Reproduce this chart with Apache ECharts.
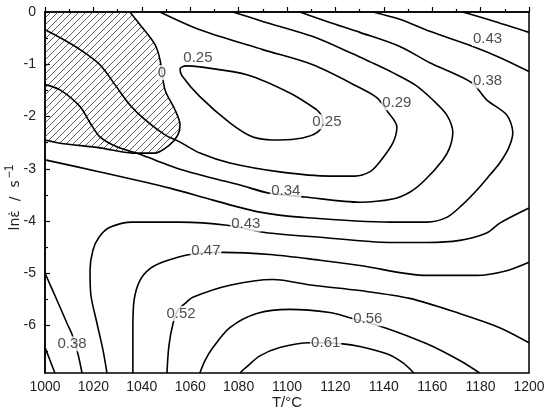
<!DOCTYPE html>
<html>
<head>
<meta charset="utf-8">
<script src="https://cdn.jsdelivr.net/npm/echarts@6.0.0/dist/echarts.min.js"></script>
<style>
  html, body { margin: 0; padding: 0; background: #fff; }
  #chart { width: 550px; height: 415px; }
</style>
</head>
<body>
<div id="chart"></div>
<script>
// contour lines, each point is [T (°C), ln strain rate]
const c000 = [[1035.1, 0], [1039.2, -0.24], [1045.4, -0.62], [1047.5, -0.91], [1049.6, -1.49], [1053.7, -1.87],
  [1055.8, -2.16], [1054.9, -2.35], [1051.6, -2.54], [1045.4, -2.70], [1036.3, -2.70], [1022.7, -2.60],
  [1006.2, -2.51], [1000, -2.45]]
const c025 = [[1112.3, -1.87], [1101.2, -1.55], [1083.4, -1.20], [1064.0, -1.05], [1058.2, -1.03], [1055.8, -1.09],
  [1056.6, -1.22], [1064.0, -1.62], [1076.4, -2.12], [1085.9, -2.39], [1097.0, -2.45], [1106.5, -2.41],
  [1112.3, -2.31], [1114.8, -2.14], [1114.4, -1.99], [1112.3, -1.87]]
const c029 = [[1047.5, 0], [1064.0, -0.34], [1090.0, -0.72], [1110.7, -1.01], [1130.1, -1.45], [1137.1, -1.64],
  [1141.6, -1.91], [1145.4, -2.20], [1143.7, -2.51], [1138.3, -2.87], [1134.2, -3.06], [1128.0, -3.14],
  [1117.7, -3.14], [1097.0, -3.06], [1076.4, -2.89], [1064.0, -2.70], [1055.8, -2.49], [1049.6, -2.35],
  [1041.3, -2.06], [1035.1, -1.78], [1028.9, -1.39], [1022.7, -1.01], [1014.5, -0.72], [1006.2, -0.49],
  [1000, -0.34]]
const c034 = [[1077.6, 0], [1090.0, -0.18], [1110.7, -0.47], [1127.2, -0.80], [1134.2, -0.95], [1143.7, -1.16],
  [1152.8, -1.39], [1160.2, -1.68], [1166.0, -1.97], [1168.5, -2.31], [1167.2, -2.60], [1164.4, -2.83],
  [1156.9, -3.22], [1150.7, -3.45], [1143.7, -3.58], [1130.1, -3.64], [1107.4, -3.54], [1092.9, -3.47],
  [1080.5, -3.31], [1069.4, -3.18], [1055.8, -3.01], [1045.4, -2.83], [1039.2, -2.72], [1029.7, -2.58],
  [1022.7, -2.39], [1018.6, -2.12], [1014.5, -1.81], [1006.2, -1.49], [1000, -1.39]]
const c038 = [[1105.3, 0], [1117.7, -0.20], [1130.1, -0.39], [1146.6, -0.66], [1159.0, -0.97], [1176.3, -1.35],
  [1182.5, -1.68], [1190.8, -1.97], [1193.3, -2.31], [1191.6, -2.60], [1187.9, -2.89], [1183.8, -3.12],
  [1178.4, -3.41], [1172.2, -3.70], [1166.0, -3.93], [1157.8, -4.02], [1142.5, -4.02], [1106.5, -3.93],
  [1088.8, -3.83], [1069.4, -3.60], [1051.6, -3.37], [1022.7, -3.06], [1000, -2.83]]
const c043top = [[1135.5, 0], [1146.6, -0.14], [1159.0, -0.37], [1176.8, -0.66], [1187.9, -0.87], [1200, -1.14]]
const c047top = [[1172.6, 0], [1185.8, -0.18], [1200, -0.39]]
const c043 = [[1025.6, -6.908], [1024.0, -6.48], [1021.5, -5.96], [1019.0, -5.43], [1018.6, -4.95], [1019.8, -4.56],
  [1022.3, -4.31], [1026.8, -4.12], [1036.3, -4.02], [1055.8, -4.02], [1075.2, -4.08], [1090.9, -4.22],
  [1113.6, -4.31], [1142.5, -4.41], [1157.8, -4.41], [1171.4, -4.37], [1182.5, -4.23], [1187.9, -4.04],
  [1200, -3.75]]
const c047 = [[1036.3, -6.908], [1036.3, -6.10], [1036.8, -5.52], [1039.2, -5.14], [1043.4, -4.91], [1049.6, -4.77],
  [1059.9, -4.64], [1073.5, -4.60], [1092.9, -4.64], [1113.6, -4.75], [1130.1, -4.85], [1157.8, -5.04],
  [1178.4, -5.04], [1190.8, -4.95], [1200, -4.79]]
const c052 = [[1050.4, -6.908], [1051.2, -6.39], [1052.9, -5.96], [1054.9, -5.71], [1057.8, -5.58], [1061.1, -5.46],
  [1076.4, -5.23], [1094.2, -5.12], [1110.7, -5.23], [1130.1, -5.33], [1150.7, -5.48], [1171.4, -5.77],
  [1187.9, -6.04], [1200, -6.33]]
const c056 = [[1064.0, -6.908], [1066.1, -6.67], [1069.4, -6.42], [1076.4, -6.04], [1087.5, -5.77], [1101.2, -5.69],
  [1117.7, -5.75], [1126.0, -5.85], [1140.4, -6.04], [1157.8, -6.35], [1171.4, -6.67], [1179.6, -6.908]]
const c061 = [[1080.5, -6.908], [1083.8, -6.77], [1088.8, -6.58], [1097.0, -6.42], [1109.4, -6.33], [1123.1, -6.35],
  [1130.1, -6.40], [1141.2, -6.54], [1147.8, -6.71], [1152.4, -6.908]]
const c038low = [[1000, -5.00], [1005.0, -5.52], [1009.5, -6.00], [1011.2, -6.17], [1013.6, -6.54], [1015.3, -6.908]]
const c034low = [[1000, -6.42], [1002.1, -6.67], [1004.1, -6.908]]

// contour labels
const labelText = ['0', '0.25', '0.25', '0.29', '0.34', '0.38', '0.43', '0.43', '0.47', '0.52', '0.56', '0.61', '0.38']
const labelT = [1048.3, 1063.2, 1116.5, 1145.4, 1099.5, 1182.9, 1182.9, 1083.0, 1066.5, 1056.2, 1133.4, 1116.0, 1011.2]
const labelLn = [-1.16, -0.87, -2.10, -1.74, -3.43, -1.32, -0.51, -4.06, -4.58, -5.77, -5.87, -6.33, -6.35]

const xTicks = [1000, 1200]
const yMajor = [0, -1, -2, -3, -4, -5, -6]
const yMinor = [-0.5, -1.5, -2.5, -3.5, -4.5, -5.5, -6.5]
const yMin = -6.908

const hatchEdge = [[1000, 0]].concat(c000)

const tile = document.createElement('canvas')
tile.width = 7
tile.height = 7
const g = tile.getContext('2d')
g.strokeStyle = '#333'
g.lineWidth = 0.8
g.beginPath()
g.moveTo(0, 7); g.lineTo(7, 0)
g.moveTo(-1, 1); g.lineTo(1, -1)
g.moveTo(6, 8); g.lineTo(8, 6)
g.stroke()

const font = 'Liberation Sans, Arial, sans-serif'
const textColor = '#222'
const chart = echarts.init(document.getElementById('chart'))

const lines = [c000, c025, c029, c034, c038, c043top, c047top, c043, c047, c052, c056, c061, c038low, c034low]
let series = [{
  type: 'custom',
  z: 1,
  silent: true,
  data: [hatchEdge[0]],
  renderItem: function (params, api) {
    return {
      type: 'polygon',
      shape: { points: hatchEdge.map(p => api.coord(p)) },
      style: { fill: { image: tile, repeat: 'repeat' }, stroke: null }
    }
  }
}]
for (let i = 0; i < lines.length; i++) {
  series.push({
    type: 'line',
    data: lines[i],
    showSymbol: false,
    smooth: 0.3,
    z: 3,
    lineStyle: { color: '#000', width: 1.6 }
  })
}
series.push({
  type: 'scatter',
  z: 5,
  symbolSize: 0,
  data: labelText.map((t, i) => ({ name: t, value: [labelT[i], labelLn[i]] })),
  label: {
    show: true,
    position: 'inside',
    formatter: '{b}',
    color: textColor,
    fontSize: 15,
    fontFamily: font,
    backgroundColor: '#fff',
    padding: [0, 1]
  }
})

const option = {
  animation: false,
  backgroundColor: '#fff',
  grid: {
    left: 45, right: 21, top: 12, bottom: 42,
    outerBoundsMode: 'none',
    containLabel: false,
    show: true, borderColor: '#000', borderWidth: 1.5
  },
  xAxis: {
    type: 'value',
    min: xTicks[0],
    max: xTicks[1],
    interval: 20,
    name: 'T/°C',
    nameLocation: 'middle',
    nameGap: 22,
    nameMoveOverlap: false,
    nameTextStyle: { color: textColor, fontSize: 15, fontFamily: font },
    axisLine: { lineStyle: { color: '#000', width: 1.5 } },
    axisTick: { inside: true, length: 5, lineStyle: { color: '#000', width: 1.2 } },
    minorTick: { show: true, splitNumber: 2, length: 3, lineStyle: { color: '#000', width: 1.2 } },
    splitLine: { show: false },
    axisLabel: { color: textColor, fontSize: 14, fontFamily: font, margin: 7, formatter: v => String(v) }
  },
  yAxis: [{
    type: 'value',
    min: yMin,
    max: 0,
    name: '{a|lnε̇  /  s}{b|−1}',
    nameLocation: 'middle',
    nameRotate: 90,
    nameGap: 23,
    nameMoveOverlap: false,
    nameTextStyle: {
      color: textColor, fontSize: 14, fontFamily: font,
      rich: {
        a: { fontSize: 14, fontFamily: 'DejaVu Sans, sans-serif', color: textColor, verticalAlign: 'bottom', lineHeight: 18 },
        b: { fontSize: 12, fontFamily: font, color: textColor, verticalAlign: 'top', lineHeight: 18, padding: [0, 10, 0, 2] }
      }
    },
    axisLine: { show: true, lineStyle: { color: '#000', width: 1.5 } },
    axisTick: { inside: true, length: 5, customValues: yMajor, lineStyle: { color: '#000', width: 1.2 } },
    splitLine: { show: false },
    axisLabel: { color: textColor, fontSize: 14, fontFamily: font, margin: 9, customValues: yMajor }
  }, {
    type: 'value',
    min: yMin,
    max: 0,
    position: 'left',
    axisLine: { show: false },
    axisTick: { inside: true, length: 3, customValues: yMinor, lineStyle: { color: '#000', width: 1.2 } },
    axisLabel: { show: false },
    splitLine: { show: false }
  }],
  series: series
}
chart.setOption(option)
</script>
</body>
</html>
